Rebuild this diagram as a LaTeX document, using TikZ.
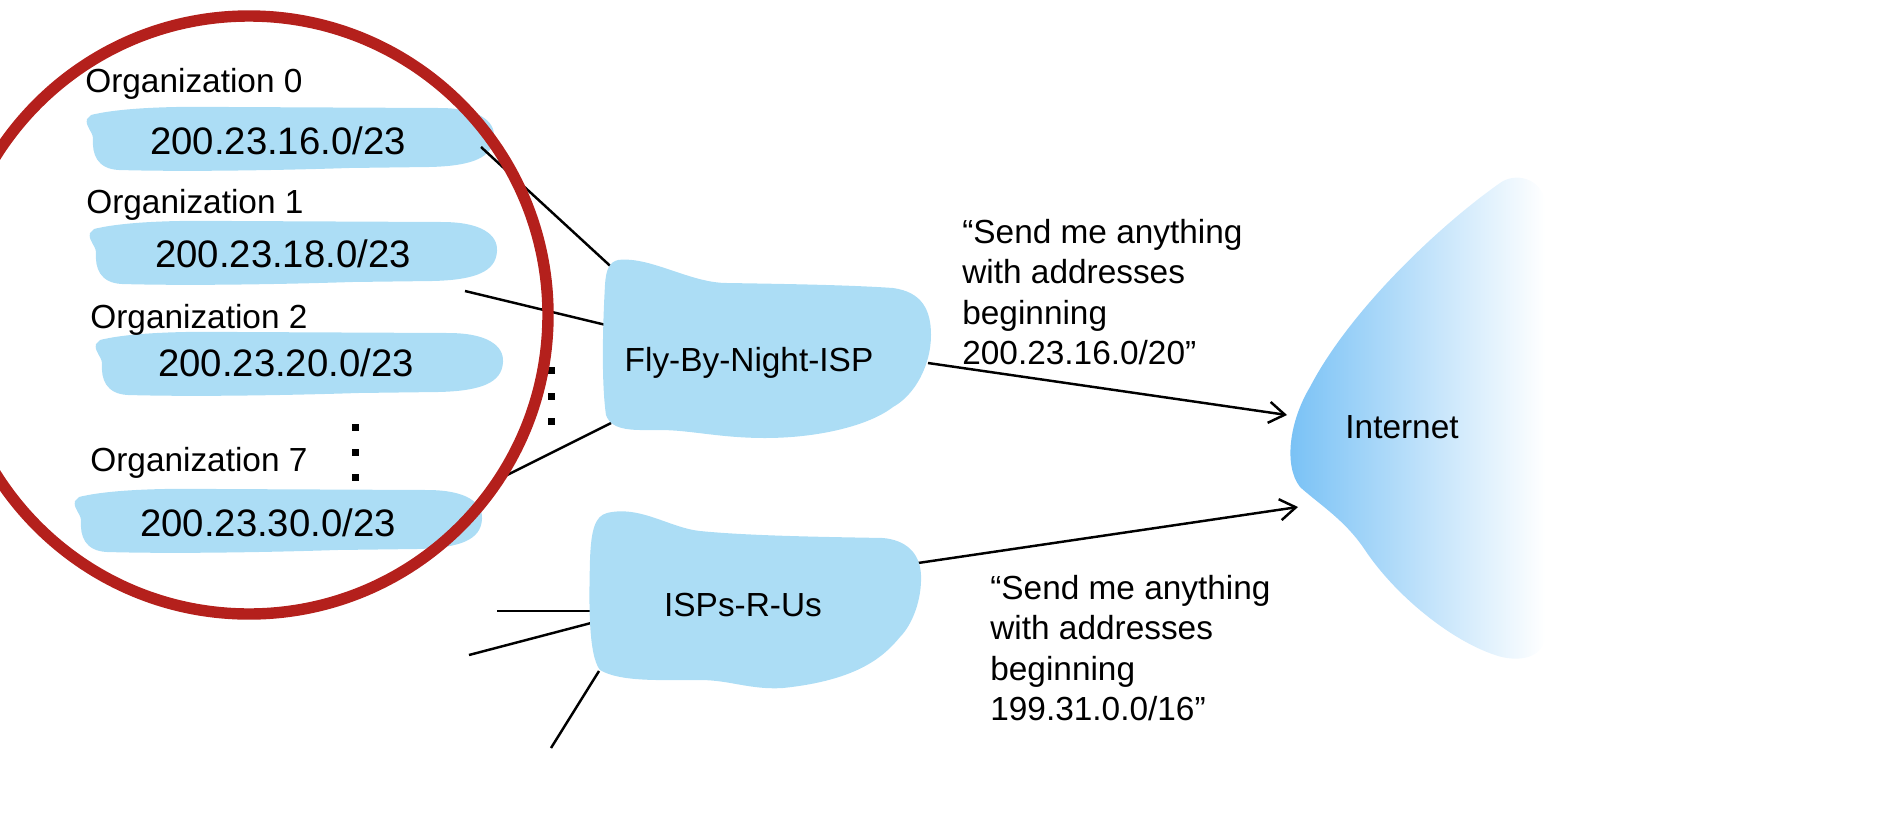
\documentclass[tikz,border=0pt]{standalone}
\usepackage{fontspec}
\setmainfont{Liberation Sans}
\usepackage{tikz}
\usetikzlibrary{arrows.meta}
\definecolor{cloudblue}{RGB}{172,221,245}
\definecolor{ringred}{RGB}{180,32,28}
\definecolor{netblue}{RGB}{118,192,245}

\tikzset{
  orglabel/.style={anchor=west,inner sep=0pt,font=\fontsize{19}{23}\selectfont},
  addrtext/.style={inner sep=0pt,font=\fontsize{21.8}{26}\selectfont},
  isplabel/.style={inner sep=0pt,font=\fontsize{19}{23}\selectfont},
  announce/.style={anchor=west,align=left,inner sep=0pt,font=\fontsize{19}{23.1}\selectfont},
  wire/.style={line width=1.4pt},
  announcewire/.style={line width=1.4pt,-{Straight Barb[length=9pt,width=12pt]}},
}

% brush stroke behind an address block
\newcommand{\brushblob}[2]{%
  \fill[cloudblue,shift={(#1,#2)}] (-198,-24) .. controls (-170,-31) and (-120,-33) .. (-60,-32)
    -- (150,-31) .. controls (190,-31) and (206,-18) .. (205,-2)
    .. controls (204,18) and (185,27) .. (140,28)
    -- (60,29) .. controls (0,31) and (-100,33) .. (-170,31)
    .. controls (-192,30) and (-197,15) .. (-196,0)
    .. controls (-196,-8) and (-204,-12) .. (-202,-20) -- cycle;}

\begin{document}
\begin{tikzpicture}[x=0.02cm,y=-0.02cm]
\useasboundingbox (0,0) rectangle (1886,812);
\clip (0,0) rectangle (1886,812);

% organizations
\brushblob{289}{139}
\brushblob{292}{253}
\brushblob{298}{364}
\brushblob{277}{521}

\node[orglabel] (org0) at (85,84) {Organization 0};
\node[orglabel] (org1) at (86,205) {Organization 1};
\node[orglabel] (org2) at (90,320) {Organization 2};
\node[orglabel] (org7) at (90,463) {Organization 7};

\node[addrtext] (addr0) at (278,141) {200.23.16.0/23};
\node[addrtext] (addr1) at (283,254) {200.23.18.0/23};
\node[addrtext] (addr2) at (286,363) {200.23.20.0/23};
\node[addrtext] (addr7) at (268,523) {200.23.30.0/23};

\foreach \y in {427,452,477} \fill (351.5,\y-3.5) rectangle +(7,7);
\foreach \y in {370,396,421} \fill (547.5,\y-3.5) rectangle +(7,7);

% end points of the links
\coordinate (org0out) at (481,147);
\coordinate (org1out) at (465,291);
\coordinate (org7out) at (497,480);
\coordinate (fbnin0) at (619,274);
\coordinate (fbnin1) at (606,325);
\coordinate (fbnin7) at (611,423);
\coordinate (fbnout) at (928,363);
\coordinate (ispfree0) at (497,611);
\coordinate (ispfree1) at (469,655);
\coordinate (ispfree2) at (551,748);
\coordinate (ispin0) at (591,611);
\coordinate (ispin1) at (591,623);
\coordinate (ispin2) at (599,671);
\coordinate (ispout) at (918,563);
\coordinate (netin0) at (1287,415);
\coordinate (netin1) at (1298,507);

\draw[wire] (org0out) -- (fbnin0);
\draw[wire] (org1out) -- (fbnin1);
\draw[wire] (org7out) -- (fbnin7);
\draw[wire] (ispfree0) -- (ispin0);
\draw[wire] (ispfree1) -- (ispin1);
\draw[wire] (ispfree2) -- (ispin2);
\draw[announcewire] (fbnout) -- (netin0);
\draw[announcewire] (ispout) -- (netin1);

% ISP clouds
\fill[cloudblue] (618,260) .. controls (650,256) and (690,283) .. (727,283)
  .. controls (790,284) and (850,285) .. (893,288)
  .. controls (922,292) and (931,310) .. (931,335)
  .. controls (931,365) and (915,395) .. (893,407)
  .. controls (870,425) and (820,438) .. (765,438)
  .. controls (720,438) and (690,430) .. (660,430)
  .. controls (635,430) and (612,432) .. (606,415)
  .. controls (601,380) and (603,320) .. (605,285)
  .. controls (606,268) and (610,262) .. cycle;
\fill[cloudblue] (607,513) .. controls (640,505) and (670,528) .. (700,531)
  .. controls (750,536) and (830,537) .. (883,538)
  .. controls (905,540) and (920,552) .. (921,575)
  .. controls (922,600) and (912,625) .. (900,637)
  .. controls (885,655) and (860,680) .. (783,688)
  .. controls (750,690) and (730,680) .. (700,680)
  .. controls (660,680) and (620,682) .. (600,670)
  .. controls (588,655) and (589,600) .. (590,560)
  .. controls (591,530) and (595,516) .. cycle;

\node[isplabel] (fbn) at (749,363) {Fly-By-Night-ISP};
\node[isplabel] (isp) at (743,605) {ISPs-R-Us};

% the internet
\shade[left color=netblue,middle color=netblue!24,right color=white] (1500,183)
  .. controls (1440,225) and (1350,310) .. (1310,387)
  .. controls (1290,420) and (1283,465) .. (1300,487)
  .. controls (1320,505) and (1345,520) .. (1365,550)
  .. controls (1395,595) and (1450,640) .. (1495,655)
  .. controls (1515,662) and (1540,660) .. (1545,640)
  -- (1545,200) .. controls (1540,178) and (1515,172) .. cycle;
\node[isplabel] (net) at (1402,427) {Internet};

\node[announce] (ann0) at (962,292) {“Send me anything\\with addresses\\beginning\\200.23.16.0/20”};
\node[announce] (ann1) at (990,648) {“Send me anything\\with addresses\\beginning\\199.31.0.0/16”};

% red ring round the organizations
\draw[ringred,line width=6.5pt] (249,315) circle [radius=299];
\end{tikzpicture}
\end{document}
